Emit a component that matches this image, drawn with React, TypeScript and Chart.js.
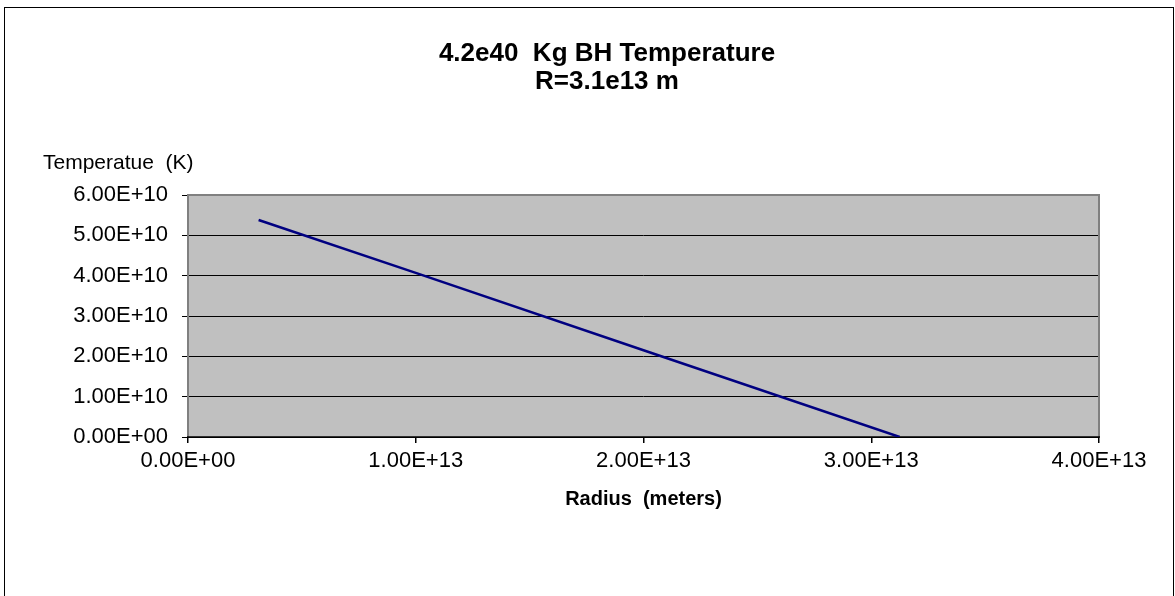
import React, { useEffect, useRef } from "react";
import { Chart, registerables } from "chart.js";

Chart.register(...registerables);

const radius: number[] = [3.1e12, 1.0e13, 2.0e13, 3.125e13];
const temperature: number[] = [5.38e10, 4.07e10, 2.15e10, 0];

const titleLines: string[] = ["4.2e40  Kg BH Temperature", "R=3.1e13 m"];
const yTitle = "Temperatue  (K)";
const xTitle = "Radius  (meters)";

const xMin = 0, xMax = 4e13, xStep = 1e13;
const yMin = 0, yMax = 6e10, yStep = 1e10;

function fmtE(v: number): string {
  const s = Number(v).toExponential(2);
  const [m, e] = s.split("e");
  const sign = e[0] === "-" ? "-" : "+";
  const digits = e.replace(/[+-]/, "").padStart(2, "0");
  return `${m}E${sign}${digits}`;
}

const FONT = "'Liberation Sans', Arial, sans-serif";

const decorPlugin = {
  id: "decor",
  beforeDraw(chart: any) {
    const { ctx, chartArea: a } = chart;
    ctx.save();
    ctx.fillStyle = "#ffffff";
    ctx.fillRect(0, 0, chart.width, chart.height);
    ctx.fillStyle = "#c0c0c0";
    ctx.fillRect(a.left, a.top, a.right - a.left, a.bottom - a.top);
    ctx.restore();
  },
  beforeDatasetsDraw(chart: any) {
    const { ctx, chartArea: a } = chart;
    ctx.save();
    ctx.strokeStyle = "#808080";
    ctx.lineWidth = 2;
    ctx.beginPath();
    ctx.moveTo(a.left, a.bottom);
    ctx.lineTo(a.left, a.top);
    ctx.lineTo(a.right, a.top);
    ctx.lineTo(a.right, a.bottom);
    ctx.stroke();
    ctx.strokeStyle = "#000000";
    ctx.lineWidth = 1.5;
    ctx.beginPath();
    ctx.moveTo(a.left - 1, a.bottom);
    ctx.lineTo(a.right + 1, a.bottom);
    ctx.stroke();
    ctx.restore();
  },
  afterDraw(chart: any) {
    const { ctx, chartArea: a } = chart;
    ctx.save();
    ctx.strokeStyle = "#000000";
    ctx.lineWidth = 1;
    ctx.strokeRect(4.5, 7.5, 1169, 700);
    ctx.fillStyle = "#000000";
    ctx.textAlign = "center";
    ctx.textBaseline = "alphabetic";
    ctx.font = `bold 26px ${FONT}`;
    ctx.fillText(titleLines[0], 607, 61);
    ctx.fillText(titleLines[1], 607, 89);
    ctx.textAlign = "left";
    ctx.font = `21px ${FONT}`;
    ctx.fillText(yTitle, 43, 169);
    ctx.textAlign = "center";
    ctx.font = `bold 20px ${FONT}`;
    ctx.fillText(xTitle, (a.left + a.right) / 2, 505);
    ctx.restore();
  },
};

export default function App() {
  const ref = useRef<HTMLCanvasElement | null>(null);
  useEffect(() => {
    if (!ref.current) return;
    const points = radius.map((r, i) => ({ x: r, y: temperature[i] }));
    const chart = new Chart(ref.current, {
      type: "line",
      data: {
        datasets: [
          {
            data: points,
            borderColor: "#000080",
            borderWidth: 2.5,
            pointRadius: 0,
            fill: false,
            tension: 0,
          },
        ],
      },
      options: {
        animation: false,
        responsive: false,
        devicePixelRatio: 1,
        layout: { padding: { left: 0, top: 195, right: 76, bottom: 119 } },
        plugins: {
          legend: { display: false },
          title: { display: false },
          tooltip: { enabled: false },
        },
        scales: {
          x: {
            type: "linear",
            min: xMin,
            max: xMax,
            afterFit: (s: any) => {
              s.height = 40;
            },
            ticks: {
              stepSize: xStep,
              color: "#000000",
              font: { family: FONT, size: 22 },
              padding: 5,
              maxRotation: 0,
              callback: (v: any) => fmtE(Number(v)),
            },
            grid: {
              drawOnChartArea: false,
              drawTicks: true,
              tickLength: 6,
              tickColor: "#000000",
              lineWidth: 1.5,
            },
            border: { display: false },
          },
          y: {
            type: "linear",
            min: yMin,
            max: yMax,
            afterFit: (s: any) => {
              s.width = 188;
            },
            ticks: {
              stepSize: yStep,
              color: "#000000",
              font: { family: FONT, size: 22 },
              padding: 14,
              callback: (v: any) => fmtE(Number(v)),
            },
            grid: {
              drawOnChartArea: true,
              drawTicks: true,
              tickLength: 6,
              color: (c: any) =>
                c.tick && c.tick.value === yMax ? "#808080" : "#000000",
              tickColor: "#000000",
              lineWidth: 1,
            },
            border: { display: false },
          },
        },
      },
      plugins: [decorPlugin],
    });
    return () => chart.destroy();
  }, []);
  return (
    <div style={{ position: "absolute", left: 0, top: 0, width: 1175, height: 596 }}>
      <canvas ref={ref} width={1175} height={596} style={{ width: 1175, height: 596 }} />
    </div>
  );
}
